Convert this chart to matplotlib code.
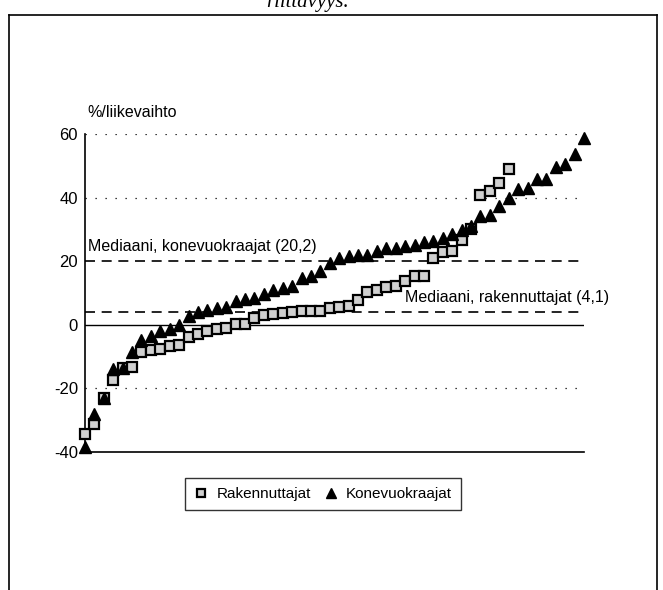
import matplotlib.pyplot as plt
from matplotlib.lines import Line2D

# values, sorted low -> high
rakennuttajat = [-34.2, -31.2, -23.1, -17.4, -13.6, -13.3, -8.4, -7.9, -7.7, -6.8,
                 -6.5, -3.7, -2.8, -2.1, -1.4, -1.0, 0.2, 0.4, 2.1, 3.2,
                 3.5, 3.8, 4.0, 4.2, 4.2, 4.3, 5.3, 5.6, 6.0, 7.8,
                 10.3, 11.0, 11.9, 12.3, 13.9, 15.5, 15.5, 21.1, 22.8, 23.1,
                 26.8, 30.0, 40.7, 42.0, 44.5, 48.9]
konevuokraajat = [-38.4, -27.9, -23.1, -14.0, -13.7, -8.7, -4.7, -3.5, -2.1, -1.4,
                  0.0, 2.7, 3.9, 4.7, 5.3, 5.5, 7.4, 8.2, 8.3, 9.8,
                  11.0, 11.6, 12.1, 14.7, 15.2, 17.0, 19.4, 21.0, 21.6, 22.0,
                  22.1, 23.1, 24.2, 24.2, 24.7, 25.0, 26.1, 26.3, 27.3, 28.7,
                  29.7, 31.0, 34.2, 34.4, 37.3, 40.0, 42.6, 43.1, 45.7, 45.7,
                  49.7, 50.5, 53.6, 58.6]
median_kone = 20.2
median_rak = 4.1
y_ticks = [60, 40, 20, 0, -20, -40]

plt.rcParams['font.family'] = ['Liberation Sans', 'DejaVu Sans']

fig = plt.figure(figsize=(6.63, 5.9), dpi=100)
ax = fig.add_axes([85 / 663, 1 - 452 / 590, 499 / 663, 318 / 590])

# outer frame of the scanned page
for xs, ys in [([9, 9], [15, 600]), ([9, 657], [15, 15]), ([657, 657], [15, 600])]:
    fig.add_artist(Line2D([x / 663 for x in xs], [1 - y / 590 for y in ys],
                          color='black', lw=1.2))
# bottom of a heading line, cut off by the scan
fig.text(266 / 663, 1 - 2 / 590, "riittävyys.", family='Liberation Serif', style='italic',
         fontsize=15, va='center', ha='left')

# grid and reference lines
for y in [60, 40, -20]:
    ax.axhline(y, color='black', lw=0.9, linestyle=(0, (1, 7)), zorder=1)
ax.axhline(0, color='black', lw=1.0, zorder=1)
ax.axhline(median_kone, color='black', lw=1.2, linestyle=(0, (6, 4)), zorder=1)
ax.axhline(median_rak, color='black', lw=1.2, linestyle=(0, (6, 4)), zorder=1)

x_rak = range(1, len(rakennuttajat) + 1)
x_kone = range(1, len(konevuokraajat) + 1)
ax.plot(x_rak, rakennuttajat, linestyle='none', marker='s', markersize=6.5,
        mfc='#d0d0d0', mec='black', mew=1.6, label='Rakennuttajat', zorder=3,
        clip_on=False)
ax.plot(x_kone, konevuokraajat, linestyle='none', marker='^', markersize=8.5,
        color='black', label='Konevuokraajat', zorder=4, clip_on=False)

ax.set_xlim(1, len(konevuokraajat))
ax.set_ylim(-40, 60)
ax.set_yticks(y_ticks)
ax.set_yticklabels([str(t) for t in y_ticks], fontsize=12)
ax.tick_params(axis='y', length=0, pad=5)
ax.set_xticks([])
for s in ['top', 'right']:
    ax.spines[s].set_visible(False)
ax.spines['left'].set_linewidth(1.2)
ax.spines['bottom'].set_linewidth(1.2)

ax.text(1.3, 66.7, "%/liikevaihto", fontsize=11.5, va='center', ha='left', clip_on=False)
ax.text(1.3, 22.3, "Mediaani, konevuokraajat (20,2)", fontsize=11.5, va='bottom', ha='left')
ax.text(35.0, 6.3, "Mediaani, rakennuttajat (4,1)", fontsize=11.5, va='bottom', ha='left',
        clip_on=False)

leg = fig.legend(loc='center', bbox_to_anchor=(323 / 663, 1 - 494 / 590), ncol=2,
                 fontsize=11, frameon=True, fancybox=False, edgecolor='black',
                 handlelength=1.0, handletextpad=0.5, columnspacing=0.8,
                 borderpad=0.6, markerscale=0.8)
leg.get_frame().set_linewidth(1.0)

fig.savefig('out.png', dpi=100)
